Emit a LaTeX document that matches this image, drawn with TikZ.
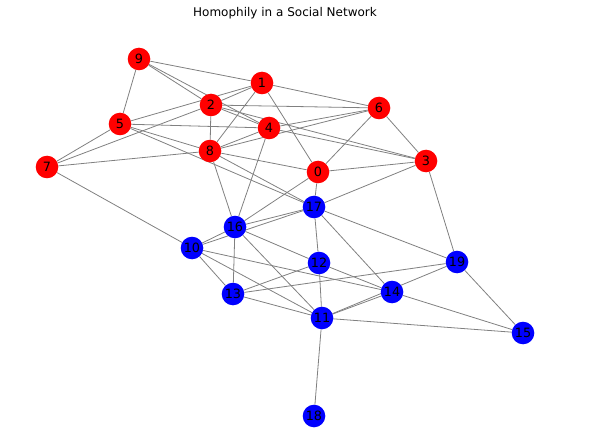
\documentclass[tikz,border=0pt]{standalone}
\usepackage{fontspec}
\setmainfont{DejaVu Sans}
\usepackage{tikz}
\usetikzlibrary{backgrounds}

\begin{document}
\begin{tikzpicture}[
  x=1pt, y=-1pt,
  font=\fontsize{12}{14}\selectfont,
  rnode/.style={circle, fill=red, minimum size=22.6pt, inner sep=0pt, font=\fontsize{12.8}{14}\selectfont},
  bnode/.style={circle, fill=blue, minimum size=22.6pt, inner sep=0pt, font=\fontsize{12.8}{14}\selectfont},
  link/.style={draw=gray, line width=0.8pt},
]
\useasboundingbox (0,0) rectangle (592,433);
\node (title) at (285,13) {Homophily in a Social Network};
% first group (red)
\node[rnode] (n9) at (139,59) {9};
\node[rnode] (n1) at (262,83) {1};
\node[rnode] (n2) at (211,105) {2};
\node[rnode] (n5) at (120,124) {5};
\node[rnode] (n4) at (269,128) {4};
\node[rnode] (n6) at (379,108) {6};
\node[rnode] (n8) at (210,151) {8};
\node[rnode] (n7) at (47,167) {7};
\node[rnode] (n0) at (318,172) {0};
\node[rnode] (n3) at (426,161) {3};
% second group (blue)
\node[bnode] (n17) at (314,207) {17};
\node[bnode] (n16) at (235,227) {16};
\node[bnode] (n10) at (192,248) {10};
\node[bnode] (n12) at (319,263) {12};
\node[bnode] (n19) at (457,262) {19};
\node[bnode] (n14) at (392,292) {14};
\node[bnode] (n13) at (233,294) {13};
\node[bnode] (n11) at (322,318) {11};
\node[bnode] (n15) at (523,333) {15};
\node[bnode] (n18) at (314,416) {18};
% edges, kept under the nodes
\begin{scope}[on background layer]
\draw[link] (n9) -- (n1); \draw[link] (n9) -- (n5); \draw[link] (n9) -- (n2); \draw[link] (n9) -- (n4);
\draw[link] (n1) -- (n2); \draw[link] (n1) -- (n5); \draw[link] (n1) -- (n6); \draw[link] (n1) -- (n8); \draw[link] (n1) -- (n0);
\draw[link] (n2) -- (n7); \draw[link] (n2) -- (n6); \draw[link] (n2) -- (n4); \draw[link] (n2) -- (n3); \draw[link] (n2) -- (n8);
\draw[link] (n5) -- (n4); \draw[link] (n5) -- (n7); \draw[link] (n5) -- (n8); \draw[link] (n5) -- (n17);
\draw[link] (n4) -- (n6); \draw[link] (n4) -- (n8); \draw[link] (n4) -- (n3); \draw[link] (n4) -- (n16);
\draw[link] (n6) -- (n8); \draw[link] (n6) -- (n0); \draw[link] (n6) -- (n3);
\draw[link] (n8) -- (n7); \draw[link] (n8) -- (n0); \draw[link] (n8) -- (n17); \draw[link] (n8) -- (n16);
\draw[link] (n7) -- (n10);
\draw[link] (n0) -- (n3); \draw[link] (n0) -- (n17); \draw[link] (n0) -- (n16);
\draw[link] (n3) -- (n17); \draw[link] (n3) -- (n19);
% inside the blue group
\draw[link] (n17) -- (n16); \draw[link] (n17) -- (n10); \draw[link] (n17) -- (n12); \draw[link] (n17) -- (n14); \draw[link] (n17) -- (n19);
\draw[link] (n16) -- (n10); \draw[link] (n16) -- (n13); \draw[link] (n16) -- (n12); \draw[link] (n16) -- (n11);
\draw[link] (n10) -- (n13); \draw[link] (n10) -- (n14); \draw[link] (n10) -- (n11);
\draw[link] (n12) -- (n13); \draw[link] (n12) -- (n14); \draw[link] (n12) -- (n11);
\draw[link] (n13) -- (n19); \draw[link] (n13) -- (n11);
\draw[link] (n14) -- (n11); \draw[link] (n14) -- (n15);
\draw[link] (n19) -- (n11); \draw[link] (n19) -- (n15);
\draw[link] (n11) -- (n15); \draw[link] (n11) -- (n18);
\end{scope}
\end{tikzpicture}
\end{document}
